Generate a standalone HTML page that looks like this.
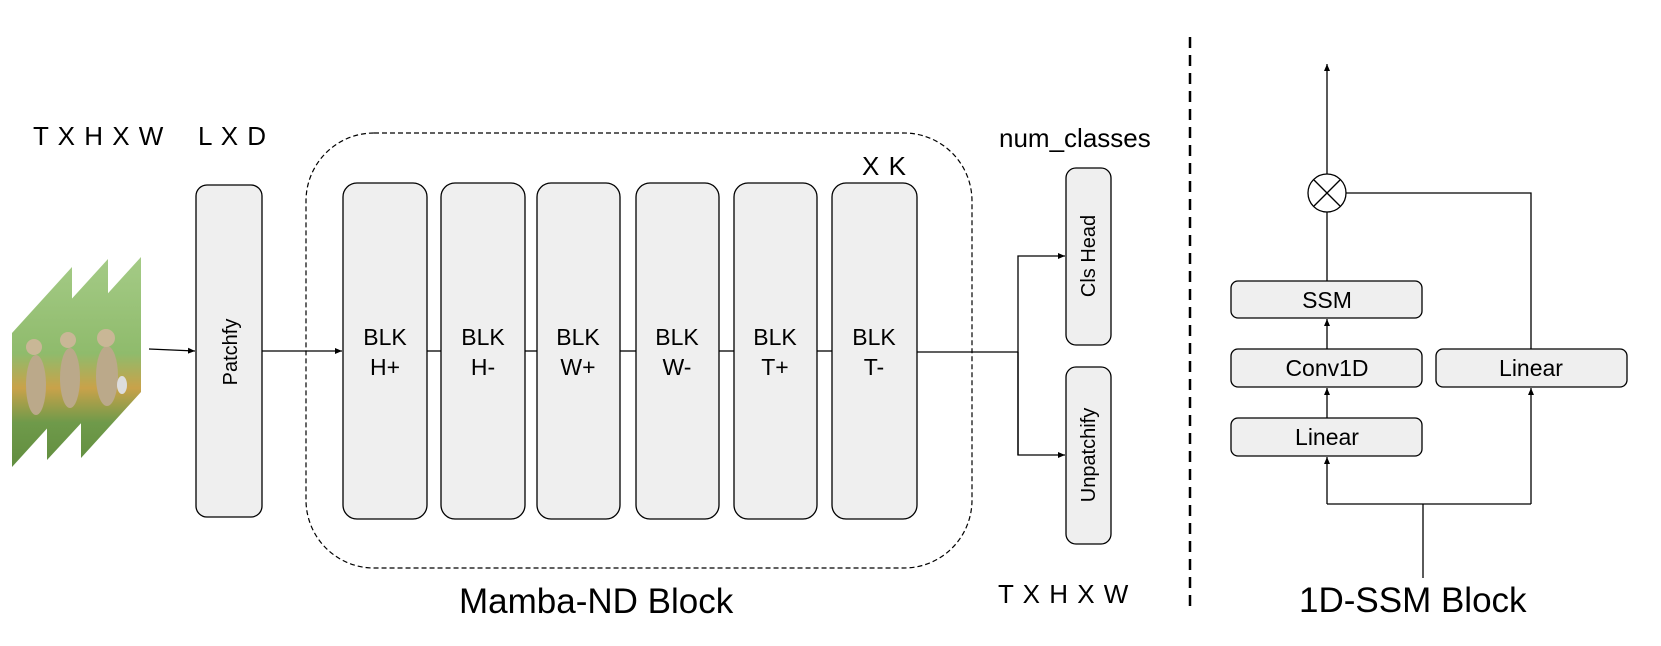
<!DOCTYPE html>
<html><head><meta charset="utf-8"><style>
html,body{margin:0;padding:0;background:#fff;}
svg{display:block;}
text{font-family:"Liberation Sans",Arial,sans-serif;fill:#000;}
</style></head><body>
<svg width="1661" height="646" viewBox="0 0 1661 646" xmlns="http://www.w3.org/2000/svg">
<defs>
<marker id="ah" markerWidth="8" markerHeight="8" refX="7" refY="4" orient="auto" markerUnits="userSpaceOnUse">
<path d="M0,1 L7,4 L0,7 z" fill="#000"/></marker>
<linearGradient id="g" x1="0" y1="0" x2="0" y2="1">
<stop offset="0" stop-color="#a6cc88"/><stop offset="0.45" stop-color="#8fbb6c"/>
<stop offset="0.6" stop-color="#c9a24a"/><stop offset="0.75" stop-color="#6f9a4a"/><stop offset="1" stop-color="#5d8a3c"/></linearGradient>
<clipPath id="c1"><polygon points="12,333 72,267 72,401 12,467"/></clipPath>
<clipPath id="c2"><polygon points="47,326 108,259 108,394 47,460"/></clipPath>
<clipPath id="c3"><polygon points="81,323 141,257 141,392 81,458"/></clipPath>
</defs>
<!-- frames -->
<g clip-path="url(#c1)"><rect x="10" y="250" width="70" height="230" fill="url(#g)"/><ellipse cx="36" cy="385" rx="10" ry="30" fill="#bba98a"/><circle cx="34" cy="347" r="8" fill="#c9b796"/></g>
<g clip-path="url(#c2)"><rect x="45" y="250" width="70" height="230" fill="url(#g)"/><ellipse cx="70" cy="378" rx="10" ry="30" fill="#bba98a"/><circle cx="68" cy="340" r="8" fill="#c9b796"/></g>
<g clip-path="url(#c3)"><rect x="79" y="250" width="70" height="230" fill="url(#g)"/><ellipse cx="107" cy="376" rx="11" ry="30" fill="#bba98a"/><circle cx="106" cy="338" r="9" fill="#c9b796"/><ellipse cx="122" cy="385" rx="5" ry="9" fill="#ddd"/></g>

<text x="33" y="145" font-size="26" letter-spacing="1">T X H X W</text>
<text x="198" y="145" font-size="26" letter-spacing="1">L X D</text>
<text x="999" y="147" font-size="26">num_classes</text>
<text x="862" y="175" font-size="26" letter-spacing="1">X K</text>
<text x="998" y="603" font-size="26" letter-spacing="1">T X H X W</text>
<text x="459" y="613" font-size="35">Mamba-ND Block</text>
<text x="1299" y="612" font-size="35">1D-SSM Block</text>

<line x1="149" y1="349" x2="195" y2="351" stroke="#000" stroke-width="1.3" marker-end="url(#ah)"/>
<rect x="196" y="185" width="66" height="332" rx="11" fill="#efefef" stroke="#000" stroke-width="1.3"/>
<text transform="translate(237,352) rotate(-90)" font-size="20" text-anchor="middle">Patchfy</text>

<rect x="306" y="133" width="666" height="435" rx="68" fill="none" stroke="#000" stroke-width="1.2" stroke-dasharray="5,3"/>
<line x1="262" y1="351" x2="342" y2="351" stroke="#000" stroke-width="1.3" marker-end="url(#ah)"/>
<g stroke="#000" stroke-width="1.3">
<line x1="427" y1="351" x2="441" y2="351"/><line x1="525" y1="351" x2="537" y2="351"/>
<line x1="620" y1="351" x2="636" y2="351"/><line x1="719" y1="351" x2="734" y2="351"/>
<line x1="817" y1="351" x2="832" y2="351"/>
<polyline points="917,352 1018,352" fill="none"/>
<polyline points="1018,455 1018,256 1065,256" fill="none" marker-end="url(#ah)"/>
<polyline points="1018,352 1018,455 1065,455" fill="none" marker-end="url(#ah)"/>
</g>
<g fill="#efefef" stroke="#000" stroke-width="1.3">
<rect x="343" y="183" width="84" height="336" rx="14"/>
<rect x="441" y="183" width="84" height="336" rx="14"/>
<rect x="537" y="183" width="83" height="336" rx="14"/>
<rect x="636" y="183" width="83" height="336" rx="14"/>
<rect x="734" y="183" width="83" height="336" rx="14"/>
<rect x="832" y="183" width="85" height="336" rx="14"/>
<rect x="1066" y="168" width="45" height="177" rx="10"/>
<rect x="1066" y="367" width="45" height="177" rx="10"/>
</g>
<g font-size="23" text-anchor="middle">
<text x="385" y="345">BLK</text><text x="385" y="375">H+</text>
<text x="483" y="345">BLK</text><text x="483" y="375">H-</text>
<text x="578" y="345">BLK</text><text x="578" y="375">W+</text>
<text x="677" y="345">BLK</text><text x="677" y="375">W-</text>
<text x="775" y="345">BLK</text><text x="775" y="375">T+</text>
<text x="874" y="345">BLK</text><text x="874" y="375">T-</text>
</g>
<text transform="translate(1095,256) rotate(-90)" font-size="20" text-anchor="middle">Cls Head</text>
<text transform="translate(1095,455) rotate(-90)" font-size="20" text-anchor="middle">Unpatchify</text>

<line x1="1190" y1="37" x2="1190" y2="612" stroke="#000" stroke-width="2.5" stroke-dasharray="11,7"/>

<g stroke="#000" stroke-width="1.3" fill="none">
<line x1="1327" y1="281" x2="1327" y2="64" marker-end="url(#ah)"/>
<polyline points="1346,193 1531,193 1531,349"/>
<line x1="1327" y1="349" x2="1327" y2="319" marker-end="url(#ah)"/>
<line x1="1327" y1="418" x2="1327" y2="388" marker-end="url(#ah)"/>
<polyline points="1327,504 1531,504"/>
<line x1="1327" y1="504" x2="1327" y2="457" marker-end="url(#ah)"/>
<line x1="1531" y1="504" x2="1531" y2="388" marker-end="url(#ah)"/>
<line x1="1423" y1="504" x2="1423" y2="578"/>
</g>
<circle cx="1327" cy="193" r="19" fill="#fff" stroke="#000" stroke-width="1.3"/>
<line x1="1314" y1="180" x2="1340" y2="206" stroke="#000" stroke-width="1.3"/>
<line x1="1340" y1="180" x2="1314" y2="206" stroke="#000" stroke-width="1.3"/>
<g fill="#efefef" stroke="#000" stroke-width="1.3">
<rect x="1231" y="281" width="191" height="37" rx="7"/>
<rect x="1231" y="349" width="191" height="38" rx="7"/>
<rect x="1231" y="418" width="191" height="38" rx="7"/>
<rect x="1436" y="349" width="191" height="38" rx="7"/>
</g>
<g font-size="23" text-anchor="middle">
<text x="1327" y="308">SSM</text>
<text x="1327" y="376">Conv1D</text>
<text x="1327" y="445">Linear</text>
<text x="1531" y="376">Linear</text>
</g>
</svg>
</body></html>
